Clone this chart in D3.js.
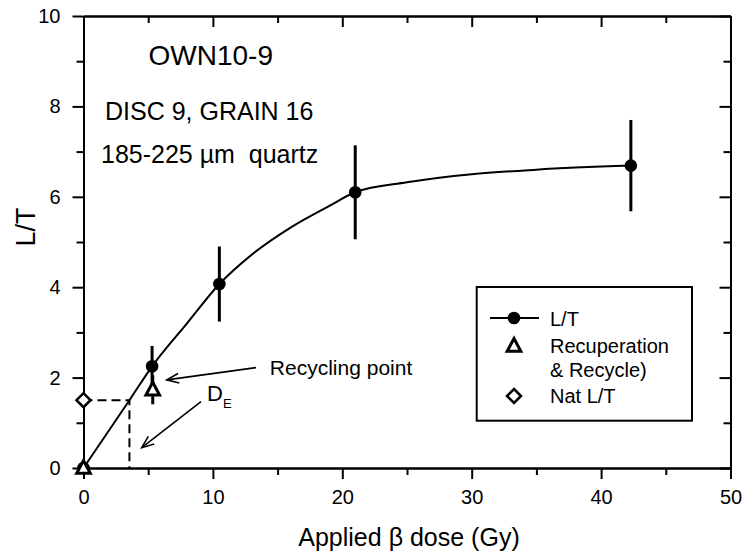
<!DOCTYPE html>
<html>
<head>
<meta charset="utf-8">
<script src="https://cdn.jsdelivr.net/npm/d3@7"></script>
<style>
  body { margin: 0; background: #fff; }
  svg { display: block; }
  text { font-family: "Liberation Sans", Arial, sans-serif; fill: #000; }
</style>
</head>
<body>
<script>
// ---- data ----
const ltDose = [0, 5.3, 10.5, 21.0, 42.3];
const ltValue = [0, 2.25, 4.07, 6.10, 6.69];
const ltError = [0, 0.45, 0.83, 1.04, 1.01];

const recDose = [0, 5.35];
const recValue = [0, 1.73];
const recError = [0, 0.32];

const natDose = [0];
const natValue = [1.5];
const deValue = 3.55;

// fitted growth curve
const fitDose = [0, 3.55, 5.3, 8, 10.5, 13, 16, 19, 21, 25, 30, 35, 42.3];
const fitValue = [0, 1.5, 2.25, 3.2, 4.07, 4.72, 5.32, 5.8, 6.1, 6.32, 6.5, 6.6, 6.69];

const xMajorTicks = [0, 10, 20, 30, 40, 50];
const xMinorTicks = [5, 15, 25, 35, 45];
const yMajorTicks = [0, 2, 4, 6, 8, 10];
const yMinorTicks = [1, 3, 5, 7, 9];

const legendLabels = ["L/T", "Recuperation", "& Recycle)", "Nat L/T"];

// ---- layout ----
const W = 744, H = 554;
const pL = 83.5, pR = 730.5, pT = 16, pB = 468;

const svg = d3.select("body").append("svg").attr("width", W).attr("height", H);

const x = d3.scaleLinear().domain([0, 50]).range([pL, pR]);
const y = d3.scaleLinear().domain([0, 10]).range([pB, pT]);

function styleAxis(g) {
  g.selectAll("path.domain").attr("stroke", "#000").attr("stroke-width", 2);
  g.selectAll(".tick line").attr("stroke", "#000").attr("stroke-width", 2);
  g.selectAll(".tick text").attr("font-size", 20).attr("font-family", "Liberation Sans, Arial, sans-serif").attr("fill", "#000");
}

// bottom axis
svg.append("g").attr("transform", `translate(0,${pB})`)
  .call(d3.axisBottom(x).tickValues(xMajorTicks).tickSize(11).tickSizeOuter(0).tickPadding(11).tickFormat(d3.format("d")))
  .call(styleAxis);
svg.append("g").attr("transform", `translate(0,${pB})`)
  .call(d3.axisBottom(x).tickValues(xMinorTicks).tickSize(7).tickSizeOuter(0).tickFormat(""))
  .call(styleAxis);
// top axis (inward)
svg.append("g").attr("transform", `translate(0,${pT})`)
  .call(d3.axisTop(x).tickValues(xMajorTicks).tickSize(-11).tickSizeOuter(0).tickFormat(""))
  .call(styleAxis);
svg.append("g").attr("transform", `translate(0,${pT})`)
  .call(d3.axisTop(x).tickValues(xMinorTicks).tickSize(-7).tickSizeOuter(0).tickFormat(""))
  .call(styleAxis);
// left axis
svg.append("g").attr("transform", `translate(${pL},0)`)
  .call(d3.axisLeft(y).tickValues(yMajorTicks).tickSize(11).tickSizeOuter(0).tickPadding(12).tickFormat(d3.format("d")))
  .call(styleAxis);
svg.append("g").attr("transform", `translate(${pL},0)`)
  .call(d3.axisLeft(y).tickValues(yMinorTicks).tickSize(7).tickSizeOuter(0).tickFormat(""))
  .call(styleAxis);
// right axis (inward)
svg.append("g").attr("transform", `translate(${pR},0)`)
  .call(d3.axisRight(y).tickValues(yMajorTicks).tickSize(-11).tickSizeOuter(0).tickFormat(""))
  .call(styleAxis);
svg.append("g").attr("transform", `translate(${pR},0)`)
  .call(d3.axisRight(y).tickValues(yMinorTicks).tickSize(-7).tickSizeOuter(0).tickFormat(""))
  .call(styleAxis);

// axis titles
svg.append("text").attr("x", (pL + pR) / 2 + 2).attr("y", 546)
  .attr("text-anchor", "middle").attr("font-size", 25).text("Applied β dose (Gy)");

svg.append("text").attr("transform", `translate(35,227) rotate(-90)`)
  .attr("text-anchor", "middle").attr("font-size", 27).text("L/T");

// fit curve
const fitData = fitDose.map((d, i) => ({ x: d, y: fitValue[i] }));
svg.append("path").datum(fitData)
  .attr("fill", "none").attr("stroke", "#000").attr("stroke-width", 2)
  .attr("d", d3.line().x(d => x(d.x)).y(d => y(d.y)).curve(d3.curveMonotoneX));

// DE dashed lines
svg.append("path")
  .attr("d", `M${x(natDose[0])},${y(natValue[0])}H${x(deValue)}V${y(0)}`)
  .attr("fill", "none").attr("stroke", "#000").attr("stroke-width", 2)
  .attr("stroke-dasharray", "9,5");

// error bars
const ltData = ltDose.map((d, i) => ({ x: d, y: ltValue[i], e: ltError[i] }));
const recData = recDose.map((d, i) => ({ x: d, y: recValue[i], e: recError[i] }));

svg.append("g").selectAll("line").data(recData.filter(d => d.e > 0)).join("line")
  .attr("x1", d => x(d.x)).attr("x2", d => x(d.x))
  .attr("y1", d => y(d.y - d.e)).attr("y2", d => y(d.y + d.e))
  .attr("stroke", "#000").attr("stroke-width", 3);
svg.append("g").selectAll("line").data(ltData.filter(d => d.e > 0)).join("line")
  .attr("x1", d => x(d.x)).attr("x2", d => x(d.x))
  .attr("y1", d => y(d.y - d.e)).attr("y2", d => y(d.y + d.e))
  .attr("stroke", "#000").attr("stroke-width", 3);

// markers
const triPath = "M0,-7.5L6.8,5.2L-6.8,5.2Z";
const diaPath = "M0,-7L7,0L0,7L-7,0Z";

svg.append("g").selectAll("circle").data(ltData).join("circle")
  .attr("cx", d => x(d.x)).attr("cy", d => y(d.y)).attr("r", 6.3).attr("fill", "#000");

svg.append("g").selectAll("path").data(recData).join("path")
  .attr("transform", d => `translate(${x(d.x)},${y(d.y)})`)
  .attr("d", triPath).attr("fill", "#fff").attr("stroke", "#000").attr("stroke-width", 3);

svg.append("g").selectAll("path").data(natDose.map((d, i) => ({ x: d, y: natValue[i] }))).join("path")
  .attr("transform", d => `translate(${x(d.x)},${y(d.y)})`)
  .attr("d", diaPath).attr("fill", "#fff").attr("stroke", "#000").attr("stroke-width", 2.5);

// header texts
svg.append("text").attr("x", 148.5).attr("y", 65).attr("font-size", 28).text("OWN10-9");
svg.append("text").attr("x", 105).attr("y", 120).attr("font-size", 25).text("DISC 9, GRAIN 16");
svg.append("text").attr("x", 101).attr("y", 162.5).attr("font-size", 25)
  .style("white-space", "pre").text("185-225 \u00B5m  quartz");

// annotations
function arrow(x1, y1, x2, y2) {
  const X1 = x(x1), Y1 = y(y1), X2 = x(x2), Y2 = y(y2);
  const a = Math.atan2(Y2 - Y1, X2 - X1);
  const L = 13, s = 0.38;
  const g = svg.append("g").attr("stroke", "#000").attr("stroke-width", 1.6).attr("fill", "none");
  g.append("line").attr("x1", X1).attr("y1", Y1).attr("x2", X2).attr("y2", Y2);
  g.append("path").attr("d",
    `M${X2 - L * Math.cos(a - s)},${Y2 - L * Math.sin(a - s)}L${X2},${Y2}L${X2 - L * Math.cos(a + s)},${Y2 - L * Math.sin(a + s)}`);
}
arrow(13.33, 2.22, 6.43, 1.95);
arrow(9.08, 1.47, 4.5, 0.45);

svg.append("text").attr("x", x(14.4)).attr("y", y(2.06)).attr("font-size", 21).text("Recycling point");
const de = svg.append("text").attr("x", x(9.55)).attr("y", y(1.48)).attr("font-size", 22);
de.append("tspan").text("D");
de.append("tspan").attr("font-size", 13).attr("dy", 7).text("E");

// legend
const lg = { l: 476.7, r: 692, t: 287, b: 420.7 };
svg.append("rect").attr("x", lg.l).attr("y", lg.t).attr("width", lg.r - lg.l).attr("height", lg.b - lg.t)
  .attr("fill", "#fff").attr("stroke", "#000").attr("stroke-width", 2);
const mx = 514, tx = 550;
svg.append("line").attr("x1", 490).attr("x2", 539).attr("y1", 318).attr("y2", 318).attr("stroke", "#000").attr("stroke-width", 2);
svg.append("circle").attr("cx", mx).attr("cy", 318).attr("r", 6.3).attr("fill", "#000");
svg.append("path").attr("transform", `translate(${mx},346)`).attr("d", triPath).attr("fill", "#fff").attr("stroke", "#000").attr("stroke-width", 3);
svg.append("path").attr("transform", `translate(${mx},396)`).attr("d", diaPath).attr("fill", "#fff").attr("stroke", "#000").attr("stroke-width", 2.5);
const legendY = [326, 353, 377, 403];
legendLabels.forEach((t, i) => {
  svg.append("text").attr("x", tx).attr("y", legendY[i]).attr("font-size", 20).text(t);
});
</script>
</body>
</html>
